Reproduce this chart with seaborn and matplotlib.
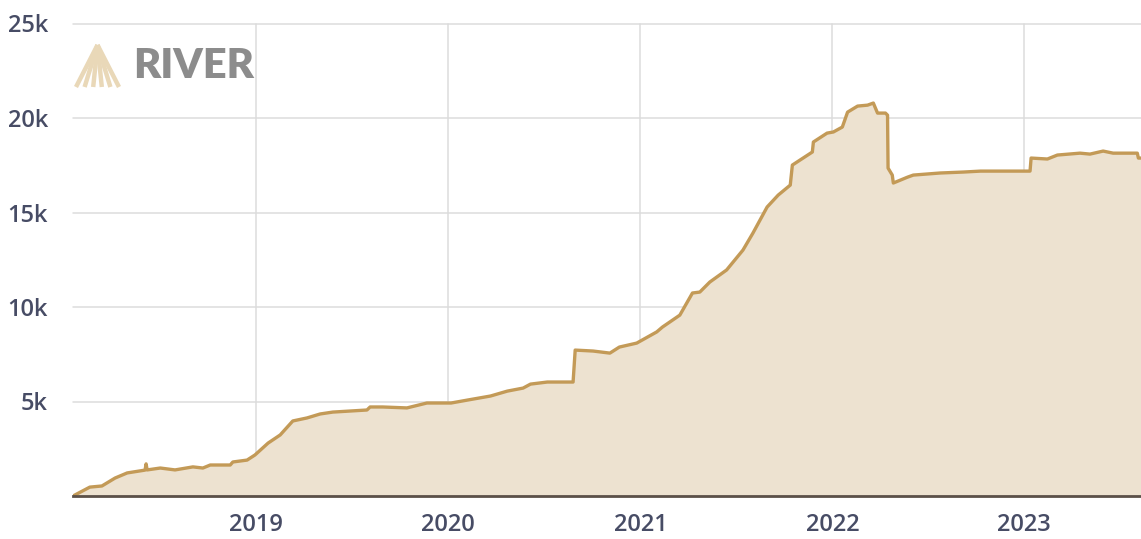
import pandas as pd
import numpy as np
import matplotlib
matplotlib.use("Agg")
import matplotlib.pyplot as plt
import matplotlib.dates as mdates
from matplotlib.ticker import FixedLocator, FuncFormatter
from matplotlib.lines import Line2D
import seaborn as sns

# values
dates = ["2018-01-18", "2018-02-19", "2018-03-14", "2018-04-08", "2018-05-01",
         "2018-06-04", "2018-06-06", "2018-06-08", "2018-07-03", "2018-07-31",
         "2018-09-03", "2018-09-22", "2018-10-06", "2018-11-13", "2018-11-18",
         "2018-12-15", "2018-12-30", "2019-01-24", "2019-02-16", "2019-03-12",
         "2019-04-08", "2019-05-03", "2019-05-27", "2019-07-31", "2019-08-06",
         "2019-08-30", "2019-10-15", "2019-11-22", "2020-01-07", "2020-02-08",
         "2020-03-22", "2020-04-23", "2020-05-23", "2020-06-06", "2020-07-08",
         "2020-08-26", "2020-08-30", "2020-10-03", "2020-11-04", "2020-11-22",
         "2020-12-25", "2021-02-01", "2021-02-12", "2021-03-17", "2021-04-10",
         "2021-04-24", "2021-05-13", "2021-06-14", "2021-07-15", "2021-08-03",
         "2021-08-30", "2021-09-20", "2021-10-13", "2021-10-17", "2021-11-24",
         "2021-11-26", "2021-12-22", "2022-01-03", "2022-01-20", "2022-01-30",
         "2022-02-18", "2022-03-09", "2022-03-20", "2022-03-28", "2022-04-12",
         "2022-04-16", "2022-04-17", "2022-04-25", "2022-04-27", "2022-05-24",
         "2022-06-04", "2022-07-25", "2022-09-07", "2022-10-10", "2023-01-12",
         "2023-01-14", "2023-02-14", "2023-03-05", "2023-04-17", "2023-05-06",
         "2023-05-31", "2023-06-19", "2023-08-04", "2023-08-06", "2023-08-11"]
btc = [0, 470, 530, 950, 1220,
       1370, 1700, 1380, 1480, 1380,
       1540, 1480, 1640, 1640, 1800,
       1900, 2170, 2800, 3230, 3970,
       4130, 4340, 4440, 4550, 4710,
       4710, 4660, 4920, 4920, 5080,
       5290, 5550, 5710, 5920, 6030,
       6030, 7720, 7670, 7560, 7880,
       8090, 8680, 8940, 9570, 10740,
       10790, 11320, 11960, 13010, 13910,
       15290, 15920, 16450, 17510, 18200,
       18730, 19200, 19260, 19520, 20310,
       20630, 20680, 20790, 20260, 20260,
       20150, 17350, 16980, 16560, 16870,
       16980, 17090, 17140, 17190, 17190,
       17880, 17830, 18040, 18140, 18090,
       18250, 18140, 18140, 17880, 17880]

y_ticks = [5000, 10000, 15000, 20000, 25000]
year_ticks = ["2019-01-01", "2020-01-01", "2021-01-01", "2022-01-01", "2023-01-01"]

df = pd.DataFrame({"date": pd.to_datetime(dates), "btc": btc})

line_color = "#C39A57"
fill_color = "#EDE2D0"
label_color = "#474C65"

sns.set_style("white")
plt.rcParams["font.family"] = ["Open Sans", "DejaVu Sans"]

fig = plt.figure(figsize=(11.41, 5.39), dpi=100)
ax = fig.add_axes([73 / 1141, 1 - 496 / 539, 1 - 73 / 1141, (496 - 23.5) / 539])

ax.fill_between(df["date"], df["btc"], 0, color=fill_color, lw=0, zorder=1)
sns.lineplot(data=df, x="date", y="btc", ax=ax, color=line_color, lw=2.4, zorder=3)

ax.set_xlim(pd.Timestamp("2018-01-18"), pd.Timestamp("2023-08-11"))
ax.set_ylim(0, 25000)

ax.yaxis.set_major_locator(FixedLocator(y_ticks))
ax.yaxis.set_major_formatter(FuncFormatter(lambda v, p: f"{int(v / 1000)}k"))
ax.set_xticks(pd.to_datetime(year_ticks))
ax.xaxis.set_major_formatter(mdates.DateFormatter("%Y"))

ax.grid(True, color="#DCDCDC", lw=1.1, zorder=0)
ax.set_axisbelow(True)
for s in ["top", "right", "left"]:
    ax.spines[s].set_visible(False)
ax.spines["bottom"].set_color("#5B5048")
ax.spines["bottom"].set_linewidth(2)
ax.spines["bottom"].set_zorder(4)

ax.tick_params(axis="y", length=0, pad=18, labelsize=17, labelcolor=label_color)
ax.tick_params(axis="x", length=0, pad=12, labelsize=17, labelcolor=label_color)
for t in ax.get_xticklabels() + ax.get_yticklabels():
    t.set_fontweight("semibold")
ax.set_xlabel("")
ax.set_ylabel("")
for ln in ax.get_ygridlines() + ax.get_xgridlines():
    ln.set_clip_on(False)

# RIVER logo
W, H = 1141, 539
apex = (97.5, 45)
for bx in np.linspace(76, 119, 6):
    fig.add_artist(Line2D([apex[0] / W, bx / W], [1 - apex[1] / H, 1 - 87 / H],
                          color="#E9D8B8", lw=3.2, solid_capstyle="butt"))
fig.text(133 / W, 1 - 66 / H, "RIVER", fontsize=30, fontweight="heavy",
         color="#8C8C8C", va="center", ha="left", family=["Lato", "DejaVu Sans"])

fig.savefig("out.png", dpi=100)
